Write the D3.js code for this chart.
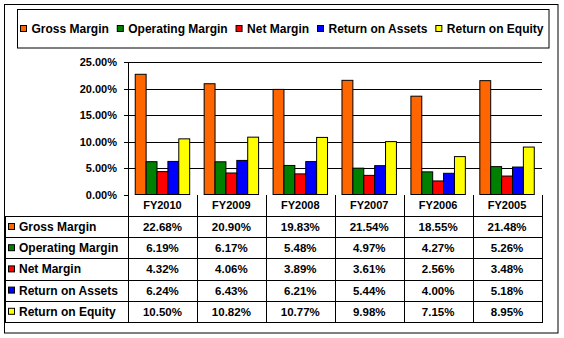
<!DOCTYPE html>
<meta charset="utf-8">
<style>
    body { margin: 0; background: #fff; }
    text { font-family: "Liberation Sans", Arial, sans-serif; font-weight: bold; fill: #000; }
    .grid line { stroke: #000; stroke-width: 1px; shape-rendering: crispEdges; }
    .bar { stroke: #000; stroke-width: 1px; }
    .tbl line { stroke: #000; stroke-width: 1px; shape-rendering: crispEdges; }
</style>
<svg></svg>
<script src="https://cdn.jsdelivr.net/npm/d3@7"></script>
<script>

    var width = 564,
        height = 338;

    // data
    var years = ["FY2010", "FY2009", "FY2008", "FY2007", "FY2006", "FY2005"];
    var seriesNames = ["Gross Margin", "Operating Margin", "Net Margin", "Return on Assets", "Return on Equity"];
    var seriesColors = ["#ff6600", "#008000", "#ff0000", "#0000ff", "#ffff00"];
    var grossMargin     = [22.68, 20.90, 19.83, 21.54, 18.55, 21.48];
    var operatingMargin = [6.19, 6.17, 5.48, 4.97, 4.27, 5.26];
    var netMargin       = [4.32, 4.06, 3.89, 3.61, 2.56, 3.48];
    var returnOnAssets  = [6.24, 6.43, 6.21, 5.44, 4.00, 5.18];
    var returnOnEquity  = [10.50, 10.82, 10.77, 9.98, 7.15, 8.95];
    var yTicks = [0, 5, 10, 15, 20, 25];

    var series = [grossMargin, operatingMargin, netMargin, returnOnAssets, returnOnEquity];

    var svg = d3.select("svg")
        .attr("width", width)
        .attr("height", height);

    var plot = {left: 128, right: 541.5, top: 62, bottom: 194.5};

    var x = d3.scaleBand()
        .domain(years)
        .range([plot.left, plot.right])
        .paddingInner(0.21)
        .paddingOuter(0.105);

    var xs = d3.scaleBand()
        .domain(d3.range(series.length))
        .range([0, x.bandwidth()]);

    var y = d3.scaleLinear()
        .domain([0, 25])
        .range([plot.bottom, plot.top]);

    // outer frame
    svg.append("rect")
        .attr("x", 4.5).attr("y", 4.5)
        .attr("width", 553.5).attr("height", 328.5)
        .attr("fill", "#fff").attr("stroke", "#000");

    // legend
    var legend = svg.append("g");
    legend.append("rect")
        .attr("x", 17.5).attr("y", 9.5)
        .attr("width", 531.5).attr("height", 38.5)
        .attr("fill", "#fff").attr("stroke", "#000");

    var items = legend.selectAll(".item")
        .data(seriesNames)
        .enter().append("g")
        .attr("class", "item");
    items.append("rect")
        .attr("width", 6).attr("height", 6)
        .attr("y", 25.5)
        .attr("fill", function(d, i) { return seriesColors[i]; })
        .attr("stroke", "#000");
    items.append("text")
        .attr("x", 11)
        .attr("y", 33)
        .style("font-size", "12px")
        .text(function(d) { return d; });

    var widths = [];
    items.each(function() { widths.push(11 + d3.select(this).select("text").node().getComputedTextLength()); });
    var gap = (543 - 20 - d3.sum(widths)) / (widths.length - 1);
    var pos = 20;
    items.attr("transform", function(d, i) {
        var t = "translate(" + (pos + 0.5) + ",0)";
        pos += widths[i] + gap;
        return t;
    });

    // gridlines + y axis
    var grid = svg.append("g").attr("class", "grid");
    grid.selectAll(".g")
        .data(yTicks)
        .enter().append("line")
        .attr("x1", plot.left - 4)
        .attr("x2", function(d) { return d === 0 ? plot.left : plot.right; })
        .attr("y1", function(d) { return Math.round(y(d)) + 0.5; })
        .attr("y2", function(d) { return Math.round(y(d)) + 0.5; });
    grid.append("line")
        .attr("x1", plot.left + 0.5).attr("x2", plot.left + 0.5)
        .attr("y1", y(25)).attr("y2", plot.bottom);

    svg.append("g").selectAll("text")
        .data(yTicks)
        .enter().append("text")
        .attr("x", 117)
        .attr("y", function(d) { return y(d) + 4; })
        .attr("text-anchor", "end")
        .style("font-size", "11px")
        .text(function(d) { return d3.format(".2f")(d) + "%"; });

    // bars
    var groups = svg.append("g").selectAll(".grp")
        .data(years)
        .enter().append("g")
        .attr("transform", function(d) { return "translate(" + x(d) + ",0)"; });

    groups.selectAll("rect")
        .data(function(d, j) { return series.map(function(s, i) { return {i: i, v: s[j]}; }); })
        .enter().append("rect")
        .attr("class", "bar")
        .attr("x", function(d) { return xs(d.i); })
        .attr("width", xs.bandwidth())
        .attr("y", function(d) { return y(d.v); })
        .attr("height", function(d) { return y(0) - y(d.v); })
        .attr("fill", function(d) { return seriesColors[d.i]; });

    // data table
    var step = x.step();
    var colX = d3.range(years.length + 1).map(function(i) { return plot.left + i * step; });
    var headTop = plot.bottom, headBottom = 216;
    var rowH = 21.2;
    var rowY = d3.range(seriesNames.length + 1).map(function(i) { return headBottom + i * rowH; });
    var tbl = svg.append("g").attr("class", "tbl");

    tbl.selectAll(".v")
        .data(colX)
        .enter().append("line")
        .attr("x1", function(d) { return Math.round(d) + 0.5; })
        .attr("x2", function(d) { return Math.round(d) + 0.5; })
        .attr("y1", headTop)
        .attr("y2", rowY[rowY.length - 1]);
    tbl.append("line")
        .attr("x1", 5.5).attr("x2", 5.5)
        .attr("y1", headBottom).attr("y2", rowY[rowY.length - 1]);
    tbl.selectAll(".h")
        .data(rowY)
        .enter().append("line")
        .attr("x1", 5)
        .attr("x2", Math.round(colX[colX.length - 1]) + 1)
        .attr("y1", function(d) { return Math.round(d) + 0.5; })
        .attr("y2", function(d) { return Math.round(d) + 0.5; });

    svg.append("g").selectAll("text")
        .data(years)
        .enter().append("text")
        .attr("x", function(d, i) { return (colX[i] + colX[i + 1]) / 2; })
        .attr("y", 209)
        .attr("text-anchor", "middle")
        .style("font-size", "11px")
        .text(function(d) { return d; });

    var rows = svg.append("g").selectAll(".row")
        .data(seriesNames)
        .enter().append("g")
        .attr("transform", function(d, i) { return "translate(0," + rowY[i] + ")"; });
    rows.append("rect")
        .attr("x", 8.5).attr("y", 7.5)
        .attr("width", 6).attr("height", 6)
        .attr("fill", function(d, i) { return seriesColors[i]; })
        .attr("stroke", "#000");
    rows.append("text")
        .attr("x", 19)
        .attr("y", 15)
        .style("font-size", "12px")
        .text(function(d) { return d; });
    rows.each(function(d, i) {
        d3.select(this).selectAll(".val")
            .data(series[i])
            .enter().append("text")
            .attr("x", function(v, j) { return (colX[j] + colX[j + 1]) / 2; })
            .attr("y", 15)
            .attr("text-anchor", "middle")
            .style("font-size", "11.5px")
            .text(function(v) { return d3.format(".2f")(v) + "%"; });
    });

</script>
